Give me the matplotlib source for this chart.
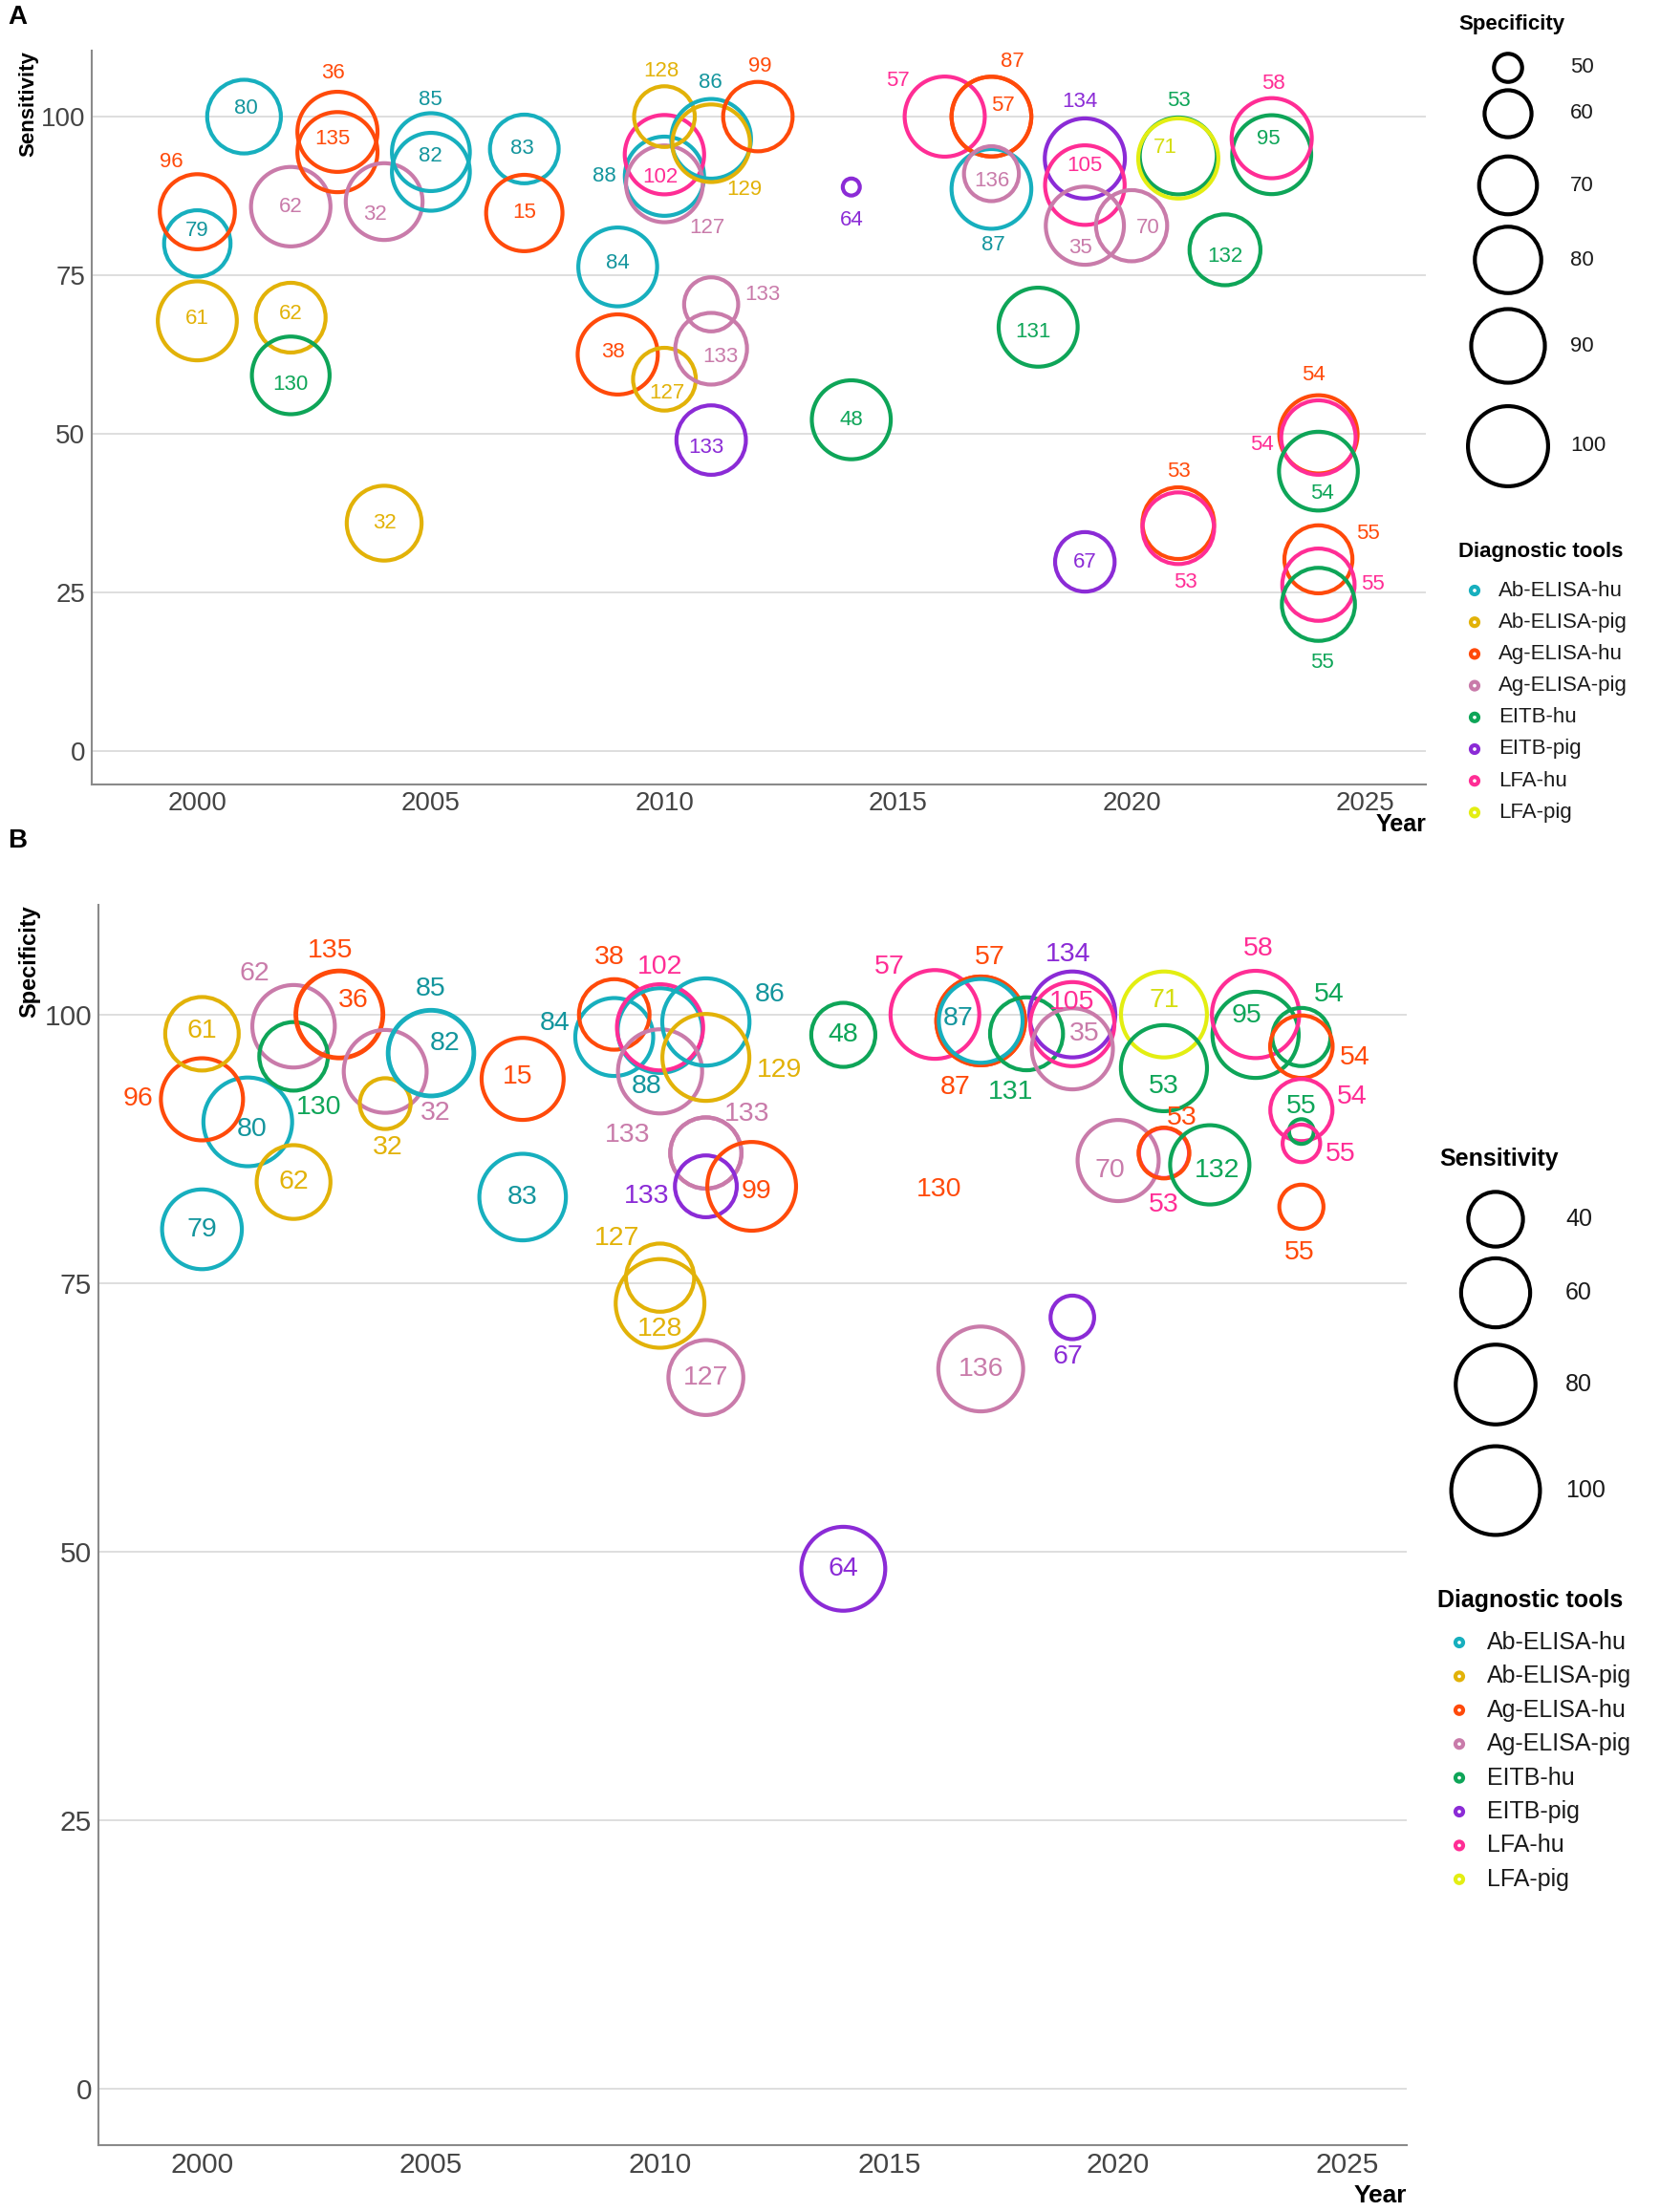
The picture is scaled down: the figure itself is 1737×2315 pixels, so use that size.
import numpy as np
import matplotlib
matplotlib.use("Agg")
import matplotlib.pyplot as plt
from matplotlib import font_manager

plt.rcParams['font.family'] = ['Liberation Sans', 'DejaVu Sans']
names = set(f.name for f in font_manager.fontManager.ttflist)
NARROW = 'Liberation Sans Narrow' if 'Liberation Sans Narrow' in names else 'Liberation Sans'

tools = ['Ab-ELISA-hu', 'Ab-ELISA-pig', 'Ag-ELISA-hu', 'Ag-ELISA-pig',
         'EITB-hu', 'EITB-pig', 'LFA-hu', 'LFA-pig']
ring_colors = ['#17AFBE', '#E2B208', '#FF4A0A', '#C97BAA',
               '#0EA558', '#8B2BD6', '#FF2D95', '#E3EE12']
text_colors = ['#13959D', '#E2B208', '#FF4A0A', '#C97BAA',
               '#0EA558', '#8B2BD6', '#FF2D95', '#D5DD10']

# ---- panel A: sensitivity by year, ring size = specificity ----
a_year = [2000, 2000, 2000, 2001, 2002, 2002, 2002, 2003, 2003, 2004,
          2004, 2005, 2005, 2007, 2007, 2009, 2009, 2010, 2010, 2010,
          2010, 2010, 2011, 2011, 2012, 2011, 2011, 2011, 2014, 2014,
          2016, 2017, 2017, 2017, 2017, 2018, 2019, 2019, 2019, 2019,
          2020, 2021, 2021, 2021, 2021, 2022, 2023, 2023, 2024, 2024,
          2024, 2024, 2024, 2024]
a_sens = [80.0, 85.0, 67.8, 100, 85.8, 68.3, 59.2, 97.6, 94.4, 86.6,
          35.9, 94.4, 91.3, 94.9, 84.8, 76.3, 62.5, 90.6, 94.0, 89.4,
          100, 58.6, 96.5, 95.8, 100, 70.4, 63.4, 49.0, 88.9, 52.2,
          100, 100, 100, 88.6, 91.0, 66.8, 93.4, 89.2, 82.8, 29.8,
          82.8, 93.8, 93.4, 35.9, 35.1, 79.0, 94.0, 96.6, 49.9, 49.4,
          44.1, 30.2, 26.2, 23.1]
a_spec = [80.0, 92.1, 98.2, 90.0, 98.9, 84.4, 96.1, 100, 100, 94.7,
          91.7, 96.4, 96.4, 83.0, 94.0, 97.9, 100, 98.5, 98.8, 94.7,
          73.1, 75.5, 99.3, 96.0, 84.0, 66.2, 87.1, 84.0, 48.4, 98.1,
          100, 99.4, 99.4, 99.4, 67.0, 98.2, 100, 99.1, 96.8, 71.8,
          86.4, 95.0, 100, 87.1, 87.1, 86.0, 98.1, 100, 97.0, 91.1,
          97.9, 82.1, 88.0, 89.1]
a_tool = [0, 2, 1, 0, 3, 1, 4, 2, 2, 3,
          1, 0, 0, 0, 2, 0, 2, 0, 6, 3,
          1, 1, 0, 1, 2, 3, 3, 5, 5, 4,
          6, 2, 2, 0, 3, 4, 5, 6, 3, 5,
          3, 4, 7, 2, 6, 4, 4, 6, 2, 6,
          4, 2, 6, 4]
a_ref = ['79', '96', '61', '80', '62', '62', '130', '36', '135', '32',
         '32', '85', '82', '83', '15', '84', '38', '88', '102', '127',
         '128', '127', '86', '129', '99', '133', '133', '133', '64', '48',
         '57', '87', '57', '87', '136', '131', '134', '105', '35', '67',
         '70', '53', '71', '53', '53', '132', '95', '58', '54', '54',
         '54', '55', '55', '55']
# label nudges (years, percentage points)
a_dx = [0, -0.55, 0, 0.05, 0, 0, 0, -0.1, -0.1, -0.2,
        0, 0, 0, -0.05, 0, 0, -0.1, -1.28, -0.1, 0.92,
        -0.07, 0.05, -0.02, 0.7, 0.04, 1.1, 0.2, -0.1, 0, 0,
        -1.0, 0.45, 0.25, 0.05, 0, -0.1, -0.1, 0, -0.1, 0,
        0.35, 0, -0.27, 0, 0.15, 0, -0.06, 0.03, -0.1, -1.2,
        0.07, 1.06, 1.17, 0.07]
a_dy = [2.0, 7.8, 0.3, 1.3, 0, 0.6, -1.4, 9.3, 2.1, -2.1,
        0, 8.3, 2.4, 0, 0, 0.6, 0.3, 0, -3.5, -6.9,
        7.1, -2.2, 8.8, -7.3, 7.9, 1.5, -1.3, -1.2, -5.2, 0,
        5.7, 8.6, 1.7, -8.9, -1.1, -0.8, 8.9, 3.1, -3.5, 0,
        -0.4, 8.7, 1.7, 8.1, -8.6, -1.1, 2.4, 8.6, 9.3, -1.2,
        -3.5, 4.0, 0, -9.2]

# ---- panel B: specificity by year, ring size = sensitivity ----
b_year = [2000, 2001, 2000, 2000, 2002, 2002, 2002, 2003, 2003, 2004,
          2004, 2005, 2005, 2007, 2007, 2009, 2009, 2010, 2010, 2010,
          2011, 2011, 2011, 2011, 2011, 2012, 2010, 2010, 2011, 2014,
          2014, 2016, 2017, 2017, 2017, 2016, 2017, 2018, 2019, 2019,
          2019, 2021, 2021, 2020, 2021, 2021, 2022, 2023, 2023, 2024,
          2024, 2024, 2024, 2024, 2024, 2019]
b_spec = [80.0, 90.0, 92.1, 98.2, 98.9, 96.1, 84.4, 100, 100, 94.7,
          91.7, 96.4, 96.4, 94.0, 83.0, 97.9, 100, 98.5, 98.8, 94.7,
          99.3, 96.0, 87.1, 87.1, 84.0, 84.0, 75.5, 73.1, 66.2, 98.1,
          48.4, 100, 99.4, 99.4, 99.4, 83.7, 67.0, 98.2, 100, 99.1,
          96.8, 100, 95.0, 86.4, 87.1, 87.1, 86.0, 98.1, 100, 97.9,
          97.0, 91.1, 89.1, 88.0, 82.1, 71.8]
b_sens = [80.0, 100, 85.0, 67.8, 85.8, 59.2, 68.3, 97.6, 94.4, 86.6,
          35.9, 94.4, 91.3, 84.8, 94.9, 76.3, 62.5, 90.6, 94.0, 89.4,
          96.5, 95.8, 63.4, 64.0, 49.0, 100, 58.6, 100, 70.4, 52.2,
          88.9, 100, 100, 100, 88.6, np.nan, 91.0, 66.8, 93.4, 89.2,
          82.8, 93.4, 93.8, 82.8, 35.1, 35.9, 79.0, 94.0, 96.6, 44.1,
          49.9, 49.4, 23.1, 26.2, 30.2, 29.8]
b_tool = [0, 0, 2, 1, 3, 4, 1, 2, 2, 3,
          1, 0, 0, 2, 0, 0, 2, 0, 6, 3,
          0, 1, 3, 3, 5, 2, 1, 1, 3, 4,
          5, 6, 2, 2, 0, 2, 3, 4, 5, 6,
          3, 7, 4, 3, 6, 2, 4, 4, 6, 4,
          2, 6, 4, 6, 2, 5]
b_ref = ['79', '80', '96', '61', '62', '130', '62', '36', '135', '32',
         '32', '85', '82', '15', '83', '84', '38', '88', '102', '',
         '86', '129', '133', '133', '133', '99', '127', '128', '127', '48',
         '64', '57', '57', '87', '87', '130', '136', '131', '134', '105',
         '35', '71', '53', '70', '53', '53', '132', '95', '58', '54',
         '54', '54', '55', '55', '55', '67']
b_dx = [0, 0.1, -1.4, 0, -0.85, 0.55, 0, 0.3, -0.2, 1.1,
        0.05, 0, 0.3, -0.1, 0, -1.3, -0.1, -0.3, 0, 0,
        1.4, 1.6, 0.9, -1.7, -1.3, 0.1, -0.95, 0, 0, 0,
        0, -1.0, 0.2, -0.55, -0.5, 0.1, 0, -0.35, -0.1, 0,
        0.27, 0, 0, -0.17, 0, 0.4, 0.15, -0.2, 0.06, 0.6,
        1.17, 1.1, 0, 0.86, -0.05, -0.1]
b_dy = [0, -0.7, 0, 0.3, 4.9, -4.8, 0, 1.3, 5.9, -3.9,
        -4.1, 6.0, 0.9, 0.2, 0, 1.3, 5.3, -5.2, 5.6, 0,
        2.5, -1.2, 3.6, 1.7, -0.9, -0.5, 3.7, -2.4, 0, 0,
        0, 4.4, 5.9, -6.2, 0.2, 0, 0, -5.4, 5.6, 2.0,
        1.4, 1.3, -1.7, -0.9, -4.8, 3.3, -0.5, 1.8, 6.1, 3.9,
        -1.0, 1.2, 2.3, -1.0, -4.3, -3.7]

spec_breaks = [50, 60, 70, 80, 90, 100]
sens_breaks = [40, 60, 80, 100]

W, H, DPI = 1737, 2315, 100
LW = 3.0                      # ring stroke, pt
LW_PX = LW * DPI / 72


def ring_size(v, vmin, vmax, d0, d1):
    # area-type size scale like ggplot: outer diameter grows with sqrt of rescaled value
    t = np.sqrt(np.clip((np.asarray(v, float) - vmin) / (vmax - vmin), 0, 1))
    d = d0 + (d1 - d0) * t
    return ((d - LW_PX) * 72 / DPI) ** 2


size_a = lambda v: ring_size(v, 48.4, 100, 22, 88)
size_b = lambda v: ring_size(v, 23.1, 100, 30, 97)


def box(l, t, r, b):
    return [l / W, 1 - b / H, (r - l) / W, (b - t) / H]


fig = plt.figure(figsize=(W / DPI, H / DPI), dpi=DPI, facecolor='white')


def panel(ax, year, yv, sv, tool, ref, dx, dy, sizer, ylim, lab_fs, tick_fs):
    year = np.asarray(year, float)
    yv = np.asarray(yv, float)
    sv = np.asarray(sv, float)
    ok = np.isfinite(sv)
    cols = [ring_colors[t] for t in tool]
    ax.scatter(year[ok], yv[ok], s=sizer(sv[ok]), facecolors='none',
               edgecolors=[c for c, k in zip(cols, ok) if k], linewidths=LW, zorder=3)
    for i in range(len(year)):
        if ref[i]:
            ax.text(year[i] + dx[i], yv[i] + dy[i], ref[i], fontsize=lab_fs,
                    color=text_colors[tool[i]], ha='center', va='center', zorder=4)
    ax.set_xlim(1997.74, 2026.3)
    ax.set_ylim(*ylim)
    ax.set_xticks([2000, 2005, 2010, 2015, 2020, 2025])
    ax.set_yticks([0, 25, 50, 75, 100])
    ax.grid(axis='y', color='#DEDEDE', linewidth=1.4)
    ax.set_axisbelow(True)
    for s in ['top', 'right']:
        ax.spines[s].set_visible(False)
    for s in ['left', 'bottom']:
        ax.spines[s].set_color('#8A8A8A')
        ax.spines[s].set_linewidth(1.5)
    ax.tick_params(length=0, pad=5, labelsize=tick_fs, labelcolor='#444444')
    for lab in ax.get_xticklabels() + ax.get_yticklabels():
        lab.set_fontfamily(NARROW)


axA = fig.add_axes(box(96, 53, 1492, 821))
panel(axA, a_year, a_sens, a_spec, a_tool, a_ref, a_dx, a_dy, size_a, (-5.3, 110.4), 16, 20)
axB = fig.add_axes(box(103, 947, 1472, 2245))
panel(axB, b_year, b_spec, b_sens, b_tool, b_ref, b_dx, b_dy, size_b, (-5.25, 110.2), 20.5, 21.5)

# overlay in pixel units for titles and legends
ov = fig.add_axes([0, 0, 1, 1], facecolor='none')
ov.set_xlim(0, W)
ov.set_ylim(H, 0)
ov.axis('off')

ov.text(8, 18, 'A', fontsize=20, fontweight='bold', va='center', ha='left')
ov.text(8, 880, 'B', fontsize=20, fontweight='bold', va='center', ha='left')
ov.text(30, 53, 'Sensitivity', rotation=90, fontsize=16, fontweight='bold', ha='center', va='top')
ov.text(31, 947, 'Specificity', rotation=90, fontsize=17, fontweight='bold', ha='center', va='top')
ov.text(1492, 863, 'Year', fontsize=18, fontweight='bold', ha='right', va='center')
ov.text(1472, 2298, 'Year', fontsize=19, fontweight='bold', ha='right', va='center')


def size_legend(title, tx, ty, cx, lx, ys, breaks, sizer, fs, tfs):
    ov.text(tx, ty, title, fontsize=tfs, fontweight='bold', ha='left', va='center')
    ov.scatter([cx] * len(breaks), ys, s=sizer(breaks), facecolors='none',
               edgecolors='black', linewidths=LW)
    for y, b in zip(ys, breaks):
        ov.text(lx, y, str(b), fontsize=fs, ha='left', va='center', color='#1A1A1A')


def tool_legend(tx, ty, mx, lx, y0, step, fs, tfs):
    ov.text(tx, ty, 'Diagnostic tools', fontsize=tfs, fontweight='bold', ha='left', va='center')
    ys = [y0 + step * i for i in range(len(tools))]
    ov.scatter([mx] * len(tools), ys, s=(8 * 72 / DPI) ** 2, facecolors='none',
               edgecolors=ring_colors, linewidths=LW)
    for y, t in zip(ys, tools):
        ov.text(lx, y, t, fontsize=fs, ha='left', va='center', color='#1A1A1A')


size_legend('Specificity', 1526, 25, 1578, 1643, [71, 119, 194, 272, 362, 467],
            spec_breaks, size_a, 16, 16)
tool_legend(1526, 577, 1543, 1568, 618, 33.2, 16, 16)
size_legend('Sensitivity', 1506, 1213, 1565, 1638, [1276, 1353, 1449, 1560],
            sens_breaks, size_b, 18, 18)
tool_legend(1504, 1675, 1527, 1556, 1719, 35.4, 18, 18)

fig.savefig('out.png', dpi=DPI, facecolor='white')
